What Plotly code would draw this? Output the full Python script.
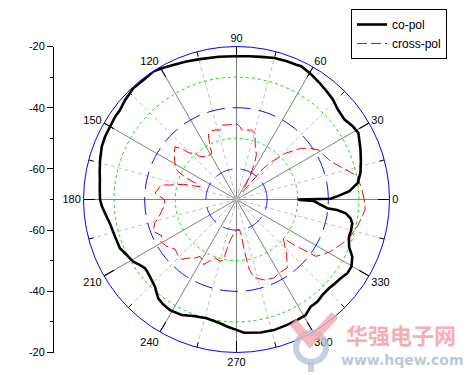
import numpy as np
import plotly.graph_objects as go

W, H = 468, 375

# ---------------- data ----------------
copol_theta = [0, 0.5, 1.9, 4.2, 7.8, 12, 17, 22, 28.7, 32.2, 36.5, 41.6, 46.1, 49.4, 54.6, 59.1,
               64.1, 66.1, 70, 75, 80.2, 85, 90.8, 97, 104.6, 110, 115.2, 119, 122.9, 127.9,
               132.9, 138.3, 142.5, 145.7, 150.1, 154.5, 158.6, 163.9, 168, 171.9, 176, 180,
               183, 186, 190.7, 197, 202.7, 206.8, 211.1, 214, 216.9, 219, 221.7, 226.9, 231.6,
               235, 239, 244.6, 249.7, 255.9, 262.4, 266, 270, 273.2, 280.3, 286, 292, 296.8,
               300.9, 304.7, 308.3, 311.9, 316.2, 319.5, 322.9, 326.3, 329.7, 333.7, 337.2,
               341.7, 345, 348.4, 350.6, 352.8, 354, 354.5, 356.5, 358.9, 359.7]
copol_db = [-50.1, -39.3, -36.9, -33.0, -30.0, -28.6, -27.5, -26.3, -24.6, -25.1, -26.1, -25.7,
            -24.6, -24.1, -23.2, -22.4, -21.6, -21.8, -21.9, -22.1, -22.7, -23.0, -23.2, -23.0,
            -22.6, -22.0, -21.4, -20.8, -20.1, -20.5, -20.4, -21.2, -22.0, -22.0, -22.3, -22.4,
            -22.7, -23.6, -24.3, -24.9, -25.2, -25.4, -26.0, -26.8, -27.9, -28.5, -28.7, -29.8,
            -30.6, -31.8, -32.6, -32.5, -32.1, -31.0, -28.8, -28.2, -27.8, -28.2, -29.4, -30.0,
            -29.2, -28.3, -27.4, -26.4, -25.8, -25.6, -25.8, -25.9, -26.0, -27.4, -27.4, -28.0,
            -28.1, -27.7, -27.3, -26.5, -26.5, -27.8, -30.1, -31.3, -31.2, -31.4, -32.2, -34.0,
            -36.9, -40.2, -42.5, -44.7, -49.5]

xpol_theta = [0, 4, 11, 14, 22, 27, 31, 34.6, 38.6, 43.2, 44.5, 47, 49.3, 50.5, 56, 60, 62, 64,
              66, 71, 74.4, 77.7, 82, 85.7, 87.2, 90, 95, 101, 103.4, 107, 111, 113.6, 116,
              118.2, 125, 131, 132, 135.5, 137, 139.4, 144, 149.5, 153, 154.5, 156.9, 157.6,
              158.5, 160.7, 164, 167.7, 168.5, 170.5, 175.6, 180, 184, 189, 193, 196, 201, 206,
              208.6, 213.8, 219, 224, 227.7, 229.6, 234.6, 237.3, 241.7, 243, 250, 255, 257.6,
              261, 267, 272, 277, 279, 280.3, 282.6, 289, 295.5, 300, 306.6, 312, 318.7, 320.6,
              321.5, 322.5, 324.4, 327.2, 331, 336.6, 341, 347.5, 355.5, 360]
xpol_db = [-28.3, -28.8, -29.8, -32.1, -36.8, -38.0, -38.6, -40.6, -43.2, -47.9, -50.1, -53.1,
           -56.6, -66.7, -65.1, -61.8, -59.2, -56.3, -54.0, -51.2, -47.5, -46.8, -47.1, -47.2,
           -46.2, -45.2, -45.5, -45.2, -46.7, -46.2, -46.2, -47.0, -50.2, -52.9, -53.0, -51.2,
           -49.4, -48.4, -45.8, -43.5, -44.8, -46.7, -47.5, -48.9, -52.4, -54.6, -56.4, -57.4,
           -52.0, -47.8, -46.1, -44.6, -43.3, -46.5, -46.5, -45.2, -43.9, -42.2, -40.9, -42.9,
           -41.6, -42.5, -44.2, -43.5, -43.5, -44.8, -46.5, -47.9, -47.1, -46.1, -49.7, -49.1,
           -49.7, -56.3, -59.5, -60.2, -59.5, -52.0, -46.8, -43.9, -42.2, -41.6, -42.2, -42.2,
           -45.5, -49.4, -50.2, -46.5, -44.2, -38.1, -36.7, -34.9, -32.9, -31.1, -29.5, -27.8,
           -28.3]

r_min, r_max = -70, -20
blue_rings = [-40, -60]
green_rings = [-30, -50]
angle_major = list(range(0, 360, 30))
angle_minor = list(range(15, 360, 30))
left_tickvals = [-50, -30, -10, 10, 30, 50]
left_ticktext = ["-20", "-40", "-60", "-60", "-40", "-20"]
series_names = ["co-pol", "cross-pol"]

# ---------------- layout geometry ----------------
cx, cy, R = 236.5, 199.5, 153
dom_x = [(cx - R) / W, (cx + R) / W]
dom_y = [(H - cy - R) / H, (H - cy + R) / H]
FONT = "Liberation Sans, Arial, sans-serif"

fig = go.Figure()

# dashed light-gray spokes at 15-degree offsets
th, rr = [], []
for a in angle_minor:
    th += [a, a, None]
    rr += [r_min, r_max, None]
fig.add_trace(go.Scatterpolar(theta=th, r=rr, mode="lines",
                              line=dict(color="#c0c0c0", width=1, dash="4px,3px"),
                              hoverinfo="skip", showlegend=False, cliponaxis=False))

ring_theta = np.linspace(0, 360, 361)
for v in green_rings:
    fig.add_trace(go.Scatterpolar(theta=ring_theta, r=[v] * len(ring_theta), mode="lines",
                                  line=dict(color="#00e000", width=1, dash="3px,3px"),
                                  hoverinfo="skip", showlegend=False))
for v in blue_rings:
    fig.add_trace(go.Scatterpolar(theta=ring_theta, r=[v] * len(ring_theta), mode="lines",
                                  line=dict(color="#0000ff", width=1, dash="18px,8px"),
                                  hoverinfo="skip", showlegend=False))

# minor inner ticks at 15-degree offsets
th, rr = [], []
for a in angle_minor:
    th += [a, a, None]
    rr += [-21.6, r_max, None]
fig.add_trace(go.Scatterpolar(theta=th, r=rr, mode="lines",
                              line=dict(color="black", width=1),
                              hoverinfo="skip", showlegend=False, cliponaxis=False))

fig.add_trace(go.Scatterpolar(theta=xpol_theta, r=xpol_db, mode="lines", name=series_names[1],
                              line=dict(color="#ff0000", width=1, dash="10px,4px")))
fig.add_trace(go.Scatterpolar(theta=copol_theta, r=copol_db, mode="lines", name=series_names[0],
                              line=dict(color="black", width=2.6)))

# invisible helper trace so the left linear axis is drawn
fig.add_trace(go.Scatter(x=[0, 0], y=[-50, 50], mode="lines", line=dict(width=0),
                         hoverinfo="skip", showlegend=False, xaxis="x", yaxis="y"))

fig.update_layout(
    width=W, height=H,
    margin=dict(l=0, r=0, t=0, b=0, pad=0, autoexpand=False),
    paper_bgcolor="white", plot_bgcolor="white",
    font=dict(family=FONT, size=11, color="black"),
    polar=dict(
        domain=dict(x=dom_x, y=dom_y),
        bgcolor="rgba(0,0,0,0)",
        radialaxis=dict(range=[r_min, r_max], showgrid=False, showline=False,
                        showticklabels=False, ticks=""),
        angularaxis=dict(rotation=0, direction="counterclockwise",
                         tickmode="array", tickvals=angle_major,
                         ticktext=[str(a) for a in angle_major],
                         showgrid=True, gridcolor="#808080", gridwidth=1,
                         showline=True, linecolor="#0000ff", linewidth=1,
                         ticks="inside", ticklen=11, tickcolor="black", tickwidth=1,
                         tickfont=dict(family=FONT, size=11, color="black")),
    ),
    xaxis=dict(domain=[54 / W, 60 / W], range=[0, 1], visible=False, automargin=False),
    yaxis=dict(domain=dom_y, range=[-50, 50], anchor="x", side="left", automargin=False,
               tickmode="array", tickvals=left_tickvals, ticktext=left_ticktext,
               ticks="outside", ticklen=6, tickcolor="black",
               minor=dict(tickmode="array", tickvals=[-40, -20, 0, 20, 40],
                          ticks="outside", ticklen=3, tickcolor="black", showgrid=False),
               showline=True, linecolor="black", linewidth=1,
               showgrid=False, zeroline=False,
               tickfont=dict(family=FONT, size=11, color="black")),
    legend=dict(x=351 / W, y=1 - 9 / H, xanchor="left", yanchor="top",
                bgcolor="white", bordercolor="black", borderwidth=1,
                font=dict(family=FONT, size=12, color="black"),
                traceorder="reversed", tracegroupgap=0),
    showlegend=True,
)

# watermark
def px(x):
    return x / W

def py(y):
    return 1 - y / H

fig.add_shape(type="circle", xref="paper", yref="paper",
              x0=px(296), x1=px(326), y0=py(362), y1=py(333),
              line=dict(color="#b8c4d6", width=6), opacity=0.8)
fig.add_shape(type="line", xref="paper", yref="paper",
              x0=px(311), x1=px(311), y0=py(362), y1=py(372),
              line=dict(color="#b8c4d6", width=6), opacity=0.8)
fig.add_shape(type="path", xref="paper", yref="paper",
              path=f"M {px(293)} {py(322)} L {px(310)} {py(342)} L {px(335)} {py(315)}",
              line=dict(color="#f4a8b0", width=9), opacity=0.8)
fig.add_annotation(x=px(401), y=py(334), xref="paper", yref="paper", showarrow=False,
                   xanchor="center", yanchor="middle",
                   text="<b>华强电子网</b>", opacity=0.85,
                   font=dict(family="Noto Sans CJK SC", size=22, color="#f3a0aa"))
fig.add_annotation(x=px(402), y=py(360), xref="paper", yref="paper", showarrow=False,
                   xanchor="center", yanchor="middle",
                   text="<b>www.hqew.com</b>", opacity=0.85,
                   font=dict(family="DejaVu Sans, Liberation Sans", size=14, color="#b0bfd3"))

fig.write_html("out.html", config={"displayModeBar": False},
               post_script="document.body.style.margin='0';document.body.style.overflow='hidden';")
